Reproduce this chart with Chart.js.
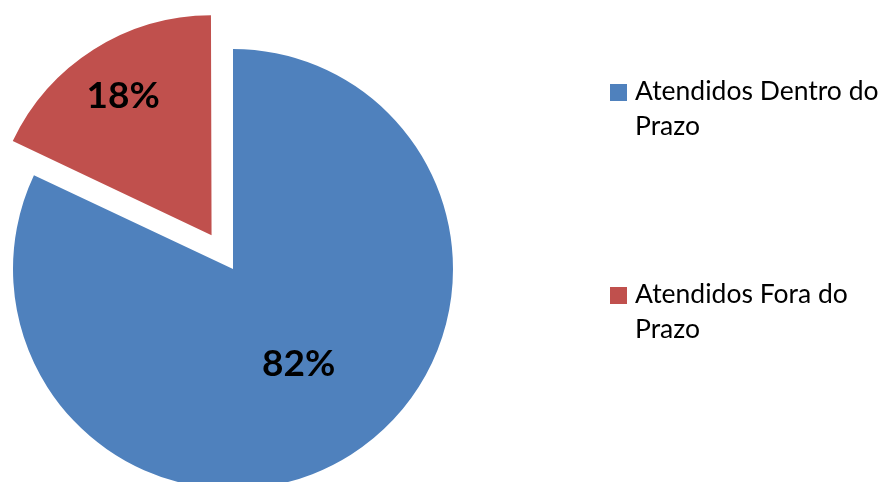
<!DOCTYPE html>
<html>
<head>
<meta charset="utf-8">
<script src="https://cdn.jsdelivr.net/npm/chart.js@4/dist/chart.umd.min.js"></script>
<style>
  html, body { margin: 0; padding: 0; background: #fff; overflow: hidden; }
  #wrap { position: relative; width: 888px; height: 482px; }
  #pie { position: absolute; left: 0; top: 0; }
  .leg { position: absolute; left: 610px; font-family: Lato, "Open Sans", sans-serif; font-size: 26.5px; line-height: 35px; color: #000; }
  .leg .box { position: absolute; left: 0; width: 17px; height: 17px; }
  .leg .txt { position: absolute; left: 25px; top: 0; white-space: nowrap; }
</style>
</head>
<body>
<div id="wrap">
  <canvas id="pie" width="888" height="482"></canvas>
  <div id="legend"></div>
</div>
<script>
// data
const categories = ['Atendidos Dentro do Prazo', 'Atendidos Fora do Prazo'];
const legendLines = [['Atendidos Dentro do', 'Prazo'], ['Atendidos Fora do', 'Prazo']];
const percentages = [82, 18];
const colors = ['#4F81BD', '#C0504D'];

// chart.js moves an arc by offset/4 and grows it by (offset/4)*fix;
// shrink the exploded arc back so every slice keeps the same radius
const keepRadius = {
  id: 'keepRadius',
  afterDatasetUpdate(chart, args){
    args.meta.data.forEach(arc=>{
      const off = (arc.options.offset || 0)/4;
      if(!off) return;
      const circ = arc.endAngle - arc.startAngle;
      const fix = 1 - Math.sin(Math.min(Math.PI, circ));
      arc.outerRadius = arc.outerRadius - off*fix;
    });
  }
};

// percent labels drawn on the slices
const sliceLabels = {
  id: 'sliceLabels',
  afterDatasetsDraw(chart, args, opts){
    const ctx = chart.ctx;
    const meta = chart.getDatasetMeta(0);
    const R = meta.controller.outerRadius;
    ctx.save();
    ctx.font = 'bold 37px Lato, "Open Sans", sans-serif';
    ctx.fillStyle = '#000';
    ctx.textAlign = 'center';
    ctx.textBaseline = 'middle';
    meta.data.forEach((arc, i)=>{
      const mid = (arc.startAngle + arc.endAngle)/2 + opts.turn[i];
      const off = (arc.options.offset || 0)/4;
      const d = off + opts.frac[i]*R;
      ctx.fillText(percentages[i] + '%', arc.x + Math.cos(mid)*d, arc.y + Math.sin(mid)*d);
    });
    ctx.restore();
  }
};

new Chart(document.getElementById('pie'), {
  type: 'pie',
  data: {
    labels: categories,
    datasets: [{
      data: percentages,
      backgroundColor: colors,
      borderWidth: 0,
      offset: [0, 160],
      hoverOffset: 0,
      radius: 220,
      clip: false
    }]
  },
  options: {
    responsive: false,
    animation: false,
    layout: { padding: { left: 0, right: 422, top: 56, bottom: 0 } },
    plugins: {
      legend: { display: false },
      tooltip: { enabled: false },
      sliceLabels: { frac: [0.525, 0.75], turn: [-0.04, 0] }
    }
  },
  plugins: [keepRadius, sliceLabels]
});

// legend on the right
const legTops = [73, 276];
const legend = document.getElementById('legend');
categories.forEach((c, i)=>{
  const item = document.createElement('div');
  item.className = 'leg';
  item.style.top = legTops[i] + 'px';
  item.innerHTML = '<div class="box" style="top:11px;background:' + colors[i] + '"></div>' +
    '<div class="txt">' + legendLines[i].join('<br>') + '</div>';
  legend.appendChild(item);
});
</script>
</body>
</html>
